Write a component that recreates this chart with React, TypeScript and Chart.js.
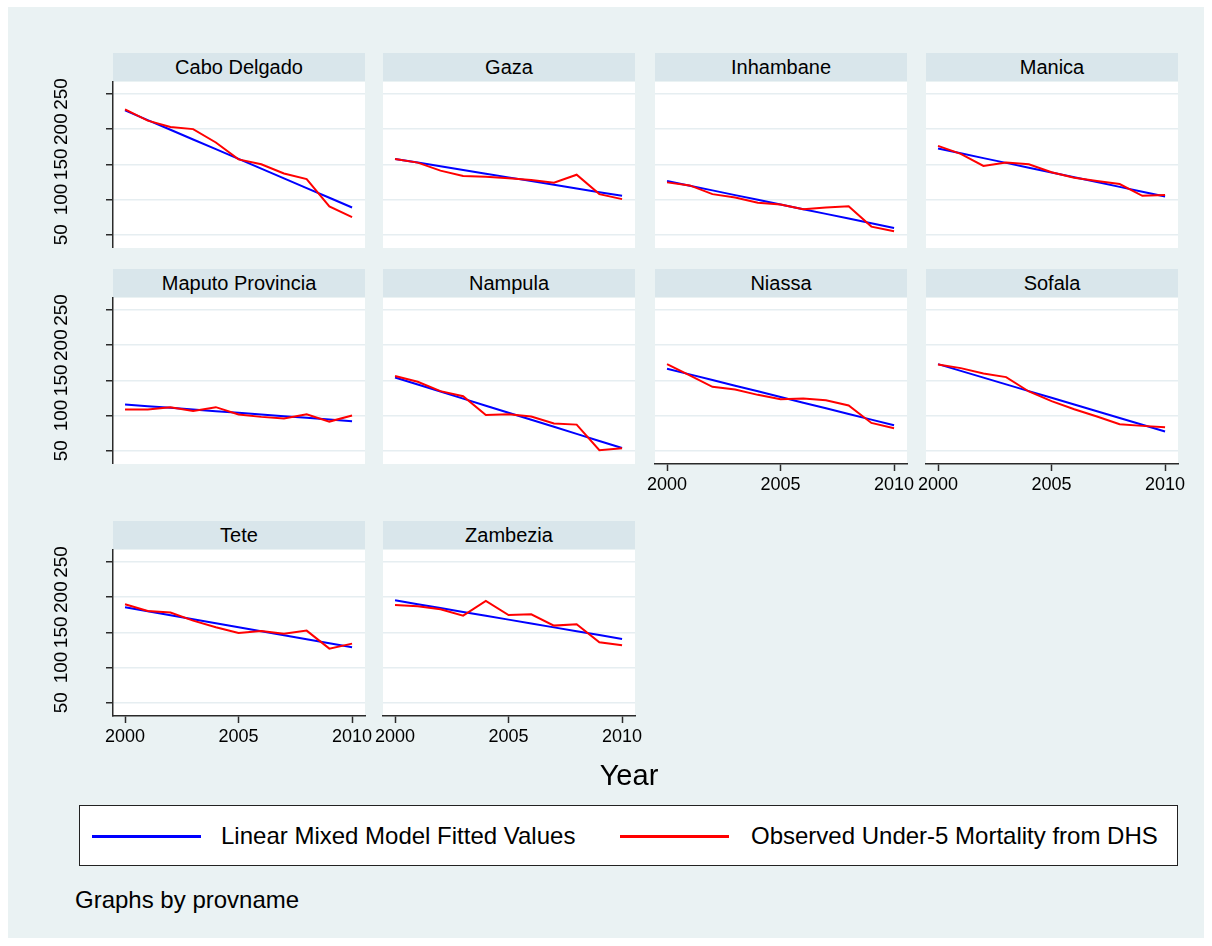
import React, { useEffect, useRef } from "react";
import { Chart, registerables } from "chart.js";

Chart.register(...registerables);

// ---------------- data ----------------
const years = [2000, 2001, 2002, 2003, 2004, 2005, 2006, 2007, 2008, 2009, 2010];
const xTickValues = [2000, 2005, 2010];
const yTickValues = [50, 100, 150, 200, 250];
const provinceNames = [
  "Cabo Delgado", "Gaza", "Inhambane", "Manica", "Maputo Provincia",
  "Nampula", "Niassa", "Sofala", "Tete", "Zambezia",
];
const seriesLabels = ["Linear Mixed Model Fitted Values", "Observed Under-5 Mortality from DHS"];
const xAxisTitle = "Year";
const noteText = "Graphs by provname";

const caboDelgadoFitted = [226.7, 212.9, 199.1, 185.3, 171.5, 157.7, 143.8, 130.0, 116.2, 102.4, 88.6];
const caboDelgadoObserved = [228, 212, 203, 200, 181, 157, 150, 137, 129, 90, 75];
const gazaFitted = [157.6, 152.4, 147.1, 141.9, 136.6, 131.4, 126.2, 120.9, 115.7, 110.4, 105.2];
const gazaObserved = [157.6, 152.4, 141, 133.3, 132.4, 130, 127.6, 123.8, 135.2, 107.6, 100.5];
const inhambaneFitted = [126.2, 119.5, 112.9, 106.2, 99.5, 92.9, 86.2, 79.5, 72.9, 66.2, 59.5];
const inhambaneObserved = [124.3, 120, 107.6, 102.9, 95.2, 92.9, 86.2, 88.6, 90.5, 61.4, 54.8];
const manicaFitted = [172.4, 165.6, 158.8, 152.0, 145.2, 138.4, 131.5, 124.7, 117.9, 111.1, 104.3];
const manicaObserved = [176.2, 164.8, 147.6, 152.4, 150, 138.6, 131, 126.2, 121.9, 105.2, 106.2];
const maputoFitted = [115.6, 113.2, 110.8, 108.5, 106.1, 103.7, 101.3, 98.9, 96.6, 94.2, 91.8];
const maputoObserved = [108.4, 108.4, 111.8, 106.5, 111.8, 101.3, 98, 95.6, 101.8, 91.3, 99.9];
const nampulaFitted = [154.0, 144.0, 134.0, 123.9, 113.9, 103.9, 93.9, 83.9, 73.8, 63.8, 53.8];
const nampulaObserved = [156, 147.9, 134.6, 127.4, 100.8, 101.8, 98.5, 88.5, 87, 50.5, 53.3];
const niassaFitted = [166.4, 158.4, 150.3, 142.3, 134.3, 126.3, 118.2, 110.2, 102.2, 94.1, 86.1];
const niassaObserved = [173, 156.9, 140.7, 136.9, 129.3, 123.2, 124.1, 121.7, 114.1, 89.4, 81.8];
const sofalaFitted = [173.0, 163.4, 153.8, 144.2, 134.6, 125.1, 115.5, 105.9, 96.3, 86.7, 77.1];
const sofalaObserved = [172.6, 167.3, 159.7, 154.5, 134.1, 120.3, 108.9, 98.5, 87.5, 85.2, 83.3];
const teteFitted = [185.5, 179.8, 174.1, 168.5, 162.8, 157.1, 151.4, 145.7, 140.1, 134.4, 128.7];
const teteObserved = [189.8, 180.3, 178, 166.6, 157.1, 149, 151.9, 148.1, 152.4, 126.8, 133.9];
const zambeziaFitted = [195.5, 190.0, 184.5, 179.0, 173.5, 168.0, 162.5, 157.0, 151.5, 146.0, 140.5];
const zambeziaObserved = [188.9, 187, 182.7, 173.7, 194.5, 174.6, 175.6, 159.5, 161.4, 135.8, 131.5];

const fittedSeries = [
  caboDelgadoFitted, gazaFitted, inhambaneFitted, manicaFitted, maputoFitted,
  nampulaFitted, niassaFitted, sofalaFitted, teteFitted, zambeziaFitted,
];
const observedSeries = [
  caboDelgadoObserved, gazaObserved, inhambaneObserved, manicaObserved, maputoObserved,
  nampulaObserved, niassaObserved, sofalaObserved, teteObserved, zambeziaObserved,
];

// ---------------- layout / style ----------------
const FONT = "'Liberation Sans', Arial, Helvetica, sans-serif";
const BG = "#EAF2F3";
const STRIP = "#D9E6EB";
const GRID = "#E6EEF1";
const AXIS = "#2a2a2a";
const BLUE = "#0000FF";
const RED = "#FF0000";
const COL_LEFT = [113, 383, 655, 926];
const ROW_TOP = [82, 298, 550];
const PLOT_W = 252;
const PLOT_H = 166;
const STRIP_H = 28;
const STRIP_GAP = 1.5;
const X_MIN = 1999.47;
const X_MAX = 2010.57;
const Y_MIN = 31;
const Y_MAX = 267;

const plotBgPlugin = {
  id: "plotBg",
  beforeDraw(chart: any) {
    const { ctx, chartArea: a } = chart;
    ctx.save();
    ctx.fillStyle = "#FFFFFF";
    ctx.fillRect(a.left, a.top, a.right - a.left, a.bottom - a.top);
    ctx.restore();
  },
};

function Panel({ index }: { index: number }) {
  const ref = useRef<HTMLCanvasElement>(null);
  const col = index % 4;
  const row = Math.floor(index / 4);
  const hasY = col === 0;
  const hasX = index >= 6;
  const left = COL_LEFT[col];
  const top = ROW_TOP[row];
  const padL = hasY ? 75 : hasX ? 24 : 0;
  const padR = hasX ? 24 : 2;
  const padB = hasX ? 46 : 0;
  const padT = hasY ? 10 : 0;
  const cw = PLOT_W + padL + padR;
  const ch = PLOT_H + padB + padT;

  useEffect(() => {
    const fitted = fittedSeries[index];
    const observed = observedSeries[index];
    const chart = new Chart(ref.current as HTMLCanvasElement, {
      type: "line",
      data: {
        datasets: [
          {
            label: seriesLabels[1],
            data: years.map((x, i) => ({ x, y: observed[i] })),
            borderColor: RED,
            backgroundColor: RED,
            borderWidth: 2,
            pointRadius: 0,
            tension: 0,
            fill: false,
            order: 1,
          },
          {
            label: seriesLabels[0],
            data: years.map((x, i) => ({ x, y: fitted[i] })),
            borderColor: BLUE,
            backgroundColor: BLUE,
            borderWidth: 2,
            pointRadius: 0,
            tension: 0,
            fill: false,
            order: 2,
          },
        ],
      },
      options: {
        animation: false,
        responsive: false,
        maintainAspectRatio: false,
        layout: { padding: { left: hasY ? 0 : padL, right: padR, top: padT, bottom: 0 } },
        plugins: {
          legend: { display: false },
          tooltip: { enabled: false },
          title: { display: false },
        },
        scales: {
          x: {
            type: "linear",
            min: X_MIN,
            max: X_MAX,
            afterBuildTicks: (s: any) => {
              s.ticks = xTickValues.map((v) => ({ value: v }));
            },
            afterFit: (s: any) => {
              s.height = padB;
              s.paddingLeft = 0;
              s.paddingRight = 0;
            },
            grid: {
              display: hasX,
              drawOnChartArea: false,
              drawTicks: hasX,
              tickLength: 7,
              tickColor: AXIS,
              tickWidth: 1.5,
            },
            border: { display: hasX, color: AXIS, width: 1.5 },
            ticks: {
              display: hasX,
              font: { family: FONT, size: 18 },
              color: "#000",
              padding: 3,
              minRotation: 0,
              maxRotation: 0,
              autoSkip: false,
              callback: (v: any) => String(v),
            },
          },
          y: {
            type: "linear",
            min: Y_MIN,
            max: Y_MAX,
            afterBuildTicks: (s: any) => {
              s.ticks = yTickValues.map((v) => ({ value: v }));
            },
            afterFit: (s: any) => {
              s.width = hasY ? padL : 0;
              s.paddingTop = 0;
              s.paddingBottom = 0;
            },
            grid: {
              color: GRID,
              lineWidth: 1.5,
              drawTicks: hasY,
              tickLength: 7,
              tickColor: AXIS,
              tickWidth: 1.5,
            },
            border: { display: hasY, color: AXIS, width: 1.5 },
            ticks: {
              display: hasY,
              font: { family: FONT, size: 19 },
              color: "#000",
              padding: 28,
              minRotation: 90,
              maxRotation: 90,
              crossAlign: "center",
              autoSkip: false,
              callback: (v: any) => String(v),
            },
          },
        },
      } as any,
      plugins: [plotBgPlugin],
    });
    return () => chart.destroy();
  }, [index]);

  return (
    <>
      <div
        style={{
          position: "absolute",
          left,
          top: top - STRIP_H - STRIP_GAP,
          width: PLOT_W,
          height: STRIP_H,
          background: STRIP,
          color: "#000",
          fontSize: 20,
          lineHeight: `${STRIP_H}px`,
          textAlign: "center",
          whiteSpace: "nowrap",
        }}
      >
        {provinceNames[index]}
      </div>
      <canvas
        ref={ref}
        width={cw}
        height={ch}
        style={{ position: "absolute", left: left - padL, top: top - padT, width: cw, height: ch }}
      />
    </>
  );
}

export default function App() {
  return (
    <div
      style={{
        position: "fixed",
        left: 0,
        top: 0,
        width: 1212,
        height: 946,
        background: "#FFFFFF",
        fontFamily: FONT,
        overflow: "hidden",
      }}
    >
      <div style={{ position: "absolute", left: 8, top: 7, width: 1196, height: 931, background: BG }} />
      {provinceNames.map((_, i) => (
        <Panel key={i} index={i} />
      ))}
      <div
        style={{
          position: "absolute",
          left: 529,
          top: 758,
          width: 200,
          textAlign: "center",
          fontSize: 29,
          lineHeight: "34px",
          color: "#000",
        }}
      >
        {xAxisTitle}
      </div>
      <div
        style={{
          position: "absolute",
          left: 79,
          top: 805,
          width: 1099,
          height: 61,
          boxSizing: "border-box",
          border: "1px solid #222",
          background: "#FFFFFF",
        }}
      />
      <div style={{ position: "absolute", left: 92, top: 835, width: 109, height: 2.5, background: BLUE }} />
      <div
        style={{ position: "absolute", left: 221, top: 822, fontSize: 24, lineHeight: "28px", color: "#000", whiteSpace: "nowrap" }}
      >
        {seriesLabels[0]}
      </div>
      <div style={{ position: "absolute", left: 620, top: 835, width: 109, height: 2.5, background: RED }} />
      <div
        style={{ position: "absolute", left: 751, top: 822, fontSize: 24, lineHeight: "28px", color: "#000", whiteSpace: "nowrap" }}
      >
        {seriesLabels[1]}
      </div>
      <div
        style={{ position: "absolute", left: 75, top: 886, fontSize: 24, lineHeight: "28px", color: "#000", whiteSpace: "nowrap" }}
      >
        {noteText}
      </div>
    </div>
  );
}
